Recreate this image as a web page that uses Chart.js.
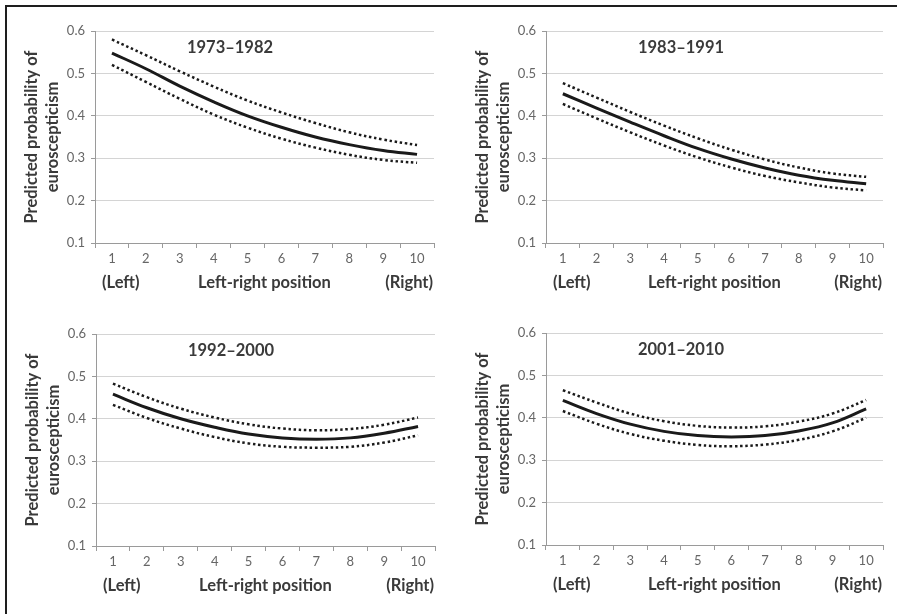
<!DOCTYPE html>
<html>
<head>
<meta charset="utf-8">
<script src="https://cdn.jsdelivr.net/npm/chart.js@4/dist/chart.umd.min.js"></script>
<style>
  html, body { margin: 0; padding: 0; background: #fff; }
  body { width: 897px; height: 614px; position: relative; overflow: hidden; }
  #frame { position: absolute; left: 5px; top: 5px; right: 0; bottom: 0; border-top: 2px solid #1e1e1e; border-left: 2px solid #1e1e1e; }
  canvas { position: absolute; }
</style>
</head>
<body>
<div id="frame"></div>
<canvas id="c1"></canvas>
<canvas id="c2"></canvas>
<canvas id="c3"></canvas>
<canvas id="c4"></canvas>
<script>
// ---- data ----
const xLabels = ['1', '2', '3', '4', '5', '6', '7', '8', '9', '10'];
const periods = ['1973–1982', '1983–1991', '1992–2000', '2001–2010'];
const yAxisTitle = ['Predicted probability of', 'euroscepticism'];
const xAxisTitle = 'Left-right position';
const leftEndLabel = '(Left)';
const rightEndLabel = '(Right)';

const p1Mid   = [0.548, 0.511, 0.470, 0.433, 0.400, 0.373, 0.350, 0.332, 0.318, 0.309];
const p1Upper = [0.580, 0.543, 0.505, 0.469, 0.436, 0.408, 0.383, 0.361, 0.344, 0.331];
const p1Lower = [0.520, 0.480, 0.440, 0.403, 0.372, 0.346, 0.325, 0.308, 0.296, 0.289];

const p2Mid   = [0.452, 0.418, 0.385, 0.353, 0.323, 0.298, 0.277, 0.260, 0.248, 0.240];
const p2Upper = [0.477, 0.443, 0.409, 0.377, 0.347, 0.320, 0.297, 0.278, 0.264, 0.256];
const p2Lower = [0.428, 0.394, 0.361, 0.330, 0.302, 0.278, 0.258, 0.243, 0.231, 0.224];

const p3Mid   = [0.458, 0.426, 0.400, 0.380, 0.364, 0.355, 0.352, 0.355, 0.366, 0.382];
const p3Upper = [0.483, 0.451, 0.424, 0.403, 0.387, 0.377, 0.373, 0.376, 0.386, 0.403];
const p3Lower = [0.433, 0.402, 0.377, 0.357, 0.342, 0.334, 0.332, 0.334, 0.344, 0.361];

const p4Mid   = [0.441, 0.410, 0.385, 0.368, 0.358, 0.355, 0.358, 0.369, 0.388, 0.421];
const p4Upper = [0.465, 0.436, 0.410, 0.392, 0.381, 0.377, 0.380, 0.391, 0.410, 0.442];
const p4Lower = [0.416, 0.386, 0.362, 0.346, 0.336, 0.333, 0.337, 0.348, 0.368, 0.400];

// ---- layout ----
const FONT = 'Lato, "Open Sans", "DejaVu Sans", sans-serif';
const TXT = '#3a3a3a';
const PADL = 87, PADT = 23, PADR = 14, PADB = 65;

const panels = [
  { id: 'c1', area: [95, 31, 434, 243], period: periods[0], mid: p1Mid, up: p1Upper, lo: p1Lower },
  { id: 'c2', area: [546, 31, 883, 243], period: periods[1], mid: p2Mid, up: p2Upper, lo: p2Lower },
  { id: 'c3', area: [96, 334, 435, 546], period: periods[2], mid: p3Mid, up: p3Upper, lo: p3Lower },
  { id: 'c4', area: [546, 333, 883, 545], period: periods[3], mid: p4Mid, up: p4Upper, lo: p4Lower }
];

const annotate = {
  id: 'annotate',
  afterDraw(chart, args, opts) {
    const ctx = chart.ctx, a = chart.chartArea;
    ctx.save();
    ctx.fillStyle = TXT;
    ctx.textBaseline = 'middle';
    ctx.font = 'bold 16.5px ' + FONT;
    ctx.textAlign = 'center';
    ctx.fillText(opts.period, a.left + 135, a.top + 17);
    ctx.font = 'bold 16.5px ' + FONT;
    const yb = a.bottom + 40;
    ctx.textAlign = 'left';
    ctx.fillText(leftEndLabel, a.left + 7, yb);
    ctx.textAlign = 'center';
    ctx.fillText(xAxisTitle, (a.left + a.right) / 2, yb);
    ctx.textAlign = 'right';
    ctx.fillText(rightEndLabel, a.right - 1, yb);
    ctx.restore();
  }
};

function lineDs(data, dotted) {
  return {
    data: data,
    borderColor: '#1a1a1a',
    borderWidth: dotted ? 2.5 : 3,
    borderDash: dotted ? [2.5, 2.7] : [],
    borderCapStyle: 'butt',
    pointRadius: 0,
    tension: 0.4,
    fill: false
  };
}

panels.forEach(p => {
  const [l, t, r, b] = p.area;
  const cv = document.getElementById(p.id);
  const w = (r - l) + PADL + PADR, h = (b - t) + PADT + PADB;
  cv.style.left = (l - PADL) + 'px';
  cv.style.top = (t - PADT) + 'px';
  cv.style.width = w + 'px';
  cv.style.height = h + 'px';
  cv.width = w; cv.height = h;
  new Chart(cv, {
    type: 'line',
    data: {
      labels: xLabels,
      datasets: [lineDs(p.up, true), lineDs(p.lo, true), lineDs(p.mid, false)]
    },
    options: {
      responsive: false,
      animation: false,
      layout: { padding: { left: 0, top: PADT, right: PADR, bottom: 0 } },
      plugins: {
        legend: { display: false },
        tooltip: { enabled: false },
        title: { display: false },
        annotate: { period: p.period }
      },
      scales: {
        x: {
          type: 'category',
          offset: true,
          grid: { display: true, offset: true, drawOnChartArea: false, drawTicks: true, tickLength: 5, color: '#9a9a9a', lineWidth: 1 },
          border: { display: true, color: '#9a9a9a', width: 1 },
          ticks: { color: '#666', font: { family: FONT, size: 13 }, padding: 3, maxRotation: 0, autoSkip: false },
          afterFit: s => { s.height = PADB; }
        },
        y: {
          min: 0.1, max: 0.6,
          ticks: { stepSize: 0.1, color: '#666', font: { family: FONT, size: 13 }, padding: 6,
                   callback: v => Number(v).toFixed(1) },
          grid: { color: '#d4d4d4', lineWidth: 1, drawTicks: true, tickLength: 4, tickColor: '#9a9a9a' },
          border: { display: true, color: '#9a9a9a', width: 1 },
          title: { display: true, text: yAxisTitle, color: TXT, font: { family: FONT, size: 16.5, weight: 'bold', lineHeight: 1.27 }, padding: { top: 13.5, bottom: 0 } },
          afterFit: s => { s.width = PADL; }
        }
      }
    },
    plugins: [annotate]
  });
});
</script>
</body>
</html>
